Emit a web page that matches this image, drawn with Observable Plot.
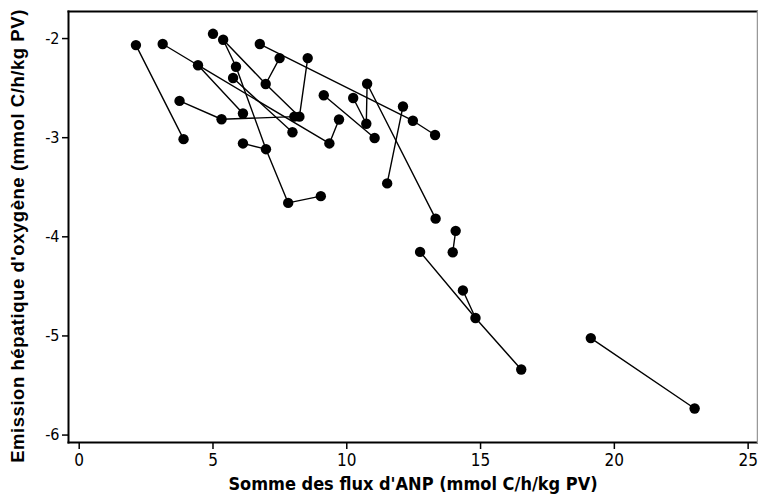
<!DOCTYPE html>
<html><head><meta charset="utf-8">
<script src="https://cdn.jsdelivr.net/npm/d3@7"></script>
<script src="https://cdn.jsdelivr.net/npm/@observablehq/plot@0.6"></script>
<style>
body{margin:0;background:#fff}
#chart svg{display:block}
</style>
</head><body><div id="chart"></div>
<script>
// Point identifiers, x = sum of ANP fluxes, y = hepatic oxygen emission
const pointIds = ["a","b","c","d","e","f","g","h","i","j","k","l","m","p","r","t1","t2","q","n","o","u","v","w","x","y","z","aa","ab","ad","ae","af","ag","ah","ai","aj","ak","al","am","an","ao","ap","aq"];
const flux     = [2.12,3.90,3.12,4.44,3.75,5.32,5.00,5.38,5.86,5.75,6.12,6.97,7.49,6.75,8.54,8.04,8.23,7.97,6.12,6.98,7.81,9.03,9.14,9.71,9.35,10.24,10.76,10.73,11.04,12.10,12.47,13.30,11.51,13.32,14.07,13.96,12.74,14.34,14.81,16.52,19.12,23.00];
const emission = [-2.066,-3.015,-2.055,-2.269,-2.629,-2.814,-1.952,-2.012,-2.284,-2.398,-2.756,-2.458,-2.197,-2.055,-2.197,-2.788,-2.788,-2.945,-3.058,-3.116,-3.658,-3.590,-2.572,-2.817,-3.058,-2.600,-2.456,-2.859,-3.003,-2.685,-2.829,-2.973,-3.461,-3.817,-3.940,-4.156,-4.152,-4.541,-4.819,-5.339,-5.022,-5.732];
// Connected sequences of points
const paths = [
  ["a","b"],
  ["c","d"],
  ["k","d","y","x"],
  ["e","f","t1"],
  ["r","t2","l","m"],
  ["h","l"],
  ["h","i","o","u","v"],
  ["n","o"],
  ["j","q"],
  ["p","af","ag"],
  ["w","ad"],
  ["z","ab","aa","ai"],
  ["ae","ah"],
  ["aj","ak"],
  ["al","an","ao"],
  ["am","an"],
  ["ap","aq"]
];
const xTicks = [0,5,10,15,20,25];
const yTicks = [-2,-3,-4,-5,-6];
const xTitle = "Somme des flux d'ANP (mmol C/h/kg PV)";
const yTitle = "Emission hépatique d'oxygène (mmol C/h/kg PV)";

const points = pointIds.map((id,i)=>({id, x:flux[i], y:emission[i]}));
const byId = Object.fromEntries(points.map(p=>[p.id,p]));
const segs = paths.flatMap((p,k)=>p.map(id=>({...byId[id], path:k})));

const narrow = '"Liberation Sans Narrow","DejaVu Sans Condensed",Arial,sans-serif';

const chart = Plot.plot({
  width:758, height:501,
  marginLeft:68, marginRight:1, marginTop:11, marginBottom:59,
  style:{fontFamily:narrow, background:"#fff", color:"#000"},
  x:{domain:[-0.40,25.35]},
  y:{domain:[-6.075,-1.727]},
  marks:[
    Plot.axisX({ticks:xTicks, tickSize:7, tickPadding:4, fontSize:17, tickFormat:d=>String(d), label:null, strokeWidth:1.5}),
    Plot.axisY({ticks:yTicks, tickSize:6, tickPadding:3, fontSize:16, tickFormat:d=>String(d), label:null, strokeWidth:1.5}),
    Plot.line(segs, {x:"x", y:"y", z:"path", stroke:"#000", strokeWidth:1.4, curve:"linear"}),
    Plot.dot(points, {x:"x", y:"y", r:5.2, fill:"#000", stroke:"none"}),
    Plot.frame({anchor:"top", stroke:"#000", strokeWidth:2}),
    Plot.frame({anchor:"left", stroke:"#000", strokeWidth:2}),
    Plot.frame({anchor:"bottom", stroke:"#000", strokeWidth:2}),
    Plot.frame({anchor:"right", stroke:"#999", strokeWidth:1.5}),
    Plot.text([xTitle], {frameAnchor:"bottom", dy:47, text:d=>d, fontSize:18, fontWeight:"bold", fontFamily:narrow, fill:"#000"}),
    Plot.text([yTitle], {frameAnchor:"left", textAnchor:"middle", dx:-50, dy:9, rotate:-90, text:d=>d, fontSize:18.5, fontWeight:"bold", fontFamily:"'Liberation Sans',Arial,sans-serif", fill:"#000"})
  ]
});
d3.select(chart).selectAll("text").filter(function(){ return this.textContent === yTitle; })
  .style("letter-spacing","0.55px");
document.getElementById("chart").appendChild(chart);
</script>
</body></html>
